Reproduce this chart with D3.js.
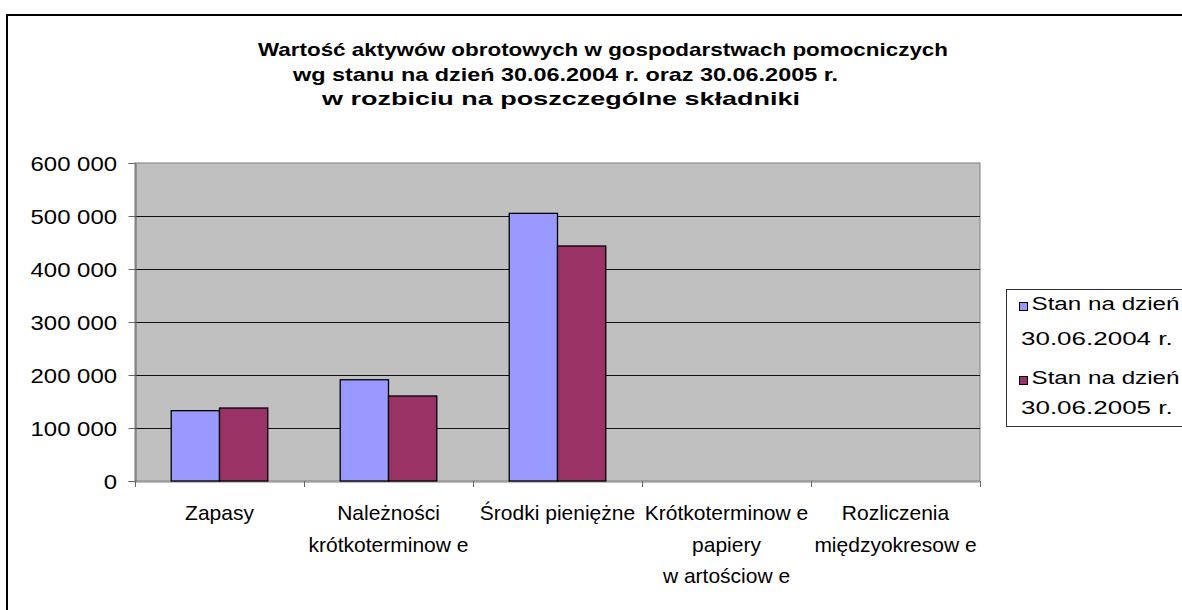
<!DOCTYPE html>
<html>
<head>
<meta charset="utf-8">
<script src="https://cdn.jsdelivr.net/npm/d3@7"></script>
<style>
  html, body { margin: 0; padding: 0; background: #fff; }
  svg { display: block; font-family: Arial, "Liberation Sans", sans-serif; }
</style>
</head>
<body>
<svg id="chart" width="1182" height="610"></svg>
<script>
// ---- data ----
const titleLines = [
  "Wartość aktywów obrotowych w gospodarstwach pomocniczych",
  "wg stanu na dzień 30.06.2004 r. oraz 30.06.2005 r.",
  "w rozbiciu na poszczególne składniki"
];
const categories = ["Zapasy", "Należności krótkoterminowe", "Środki pieniężne",
  "Krótkoterminowe papiery wartościowe", "Rozliczenia międzyokresowe"];
const categoryLabelLines = [
  ["Zapasy"],
  ["Należności", "krótkoterminow e"],
  ["Środki pieniężne"],
  ["Krótkoterminow e", "papiery", "w artościow e"],
  ["Rozliczenia", "międzyokresow e"]
];
const seriesNames = ["Stan na dzień 30.06.2004 r.", "Stan na dzień 30.06.2005 r."];
const legendLines = [["Stan na dzień", "30.06.2004 r."], ["Stan na dzień", "30.06.2005 r."]];
const values2004 = [132700, 191000, 505000, 0, 0];
const values2005 = [137700, 160400, 443400, 0, 0];
const yTicks = [0, 100000, 200000, 300000, 400000, 500000, 600000];
const colors = ["#9999FF", "#993366"];

// ---- layout ----
const svg = d3.select("#chart");
const plot = { left: 135, right: 980, top: 163, bottom: 481 };

// outer chart border (extends past window right/bottom)
svg.append("rect").attr("x", 7).attr("y", 15).attr("width", 1250).attr("height", 700)
  .attr("fill", "#fff").attr("stroke", "#000").attr("stroke-width", 2);

// title
const titleSpans = [[258, 948, 56], [293, 838, 80.5], [322, 800, 105]];
titleLines.forEach((t, i) => {
  const [x0, x1, yb] = titleSpans[i];
  svg.append("text").attr("x", x0).attr("y", yb)
    .attr("font-size", 19).attr("font-weight", "bold").attr("fill", "#000")
    .attr("textLength", x1 - x0).attr("lengthAdjust", "spacingAndGlyphs")
    .text(t);
});

const x = d3.scaleBand().domain(categories).range([plot.left, plot.right]).paddingInner(0).paddingOuter(0);
const x1 = d3.scaleBand().domain(seriesNames).range([0, x.bandwidth()]).paddingInner(0).paddingOuter(0.75);
const y = d3.scaleLinear().domain([0, 600000]).range([plot.bottom, plot.top]);

// plot background
svg.append("rect").attr("x", plot.left).attr("y", plot.top)
  .attr("width", plot.right - plot.left).attr("height", plot.bottom - plot.top)
  .attr("fill", "#C0C0C0").attr("stroke", "#808080").attr("stroke-width", 1);

// gridlines
svg.append("g").selectAll("line").data(yTicks.filter(d => d > 0 && d < 600000)).join("line")
  .attr("x1", plot.left).attr("x2", plot.right)
  .attr("y1", d => Math.round(y(d)) + 0.5).attr("y2", d => Math.round(y(d)) + 0.5)
  .attr("stroke", "#111").attr("stroke-width", 1);

// y axis
const fmt = d => d3.format(",")(d).replace(/,/g, " ");
const yAxis = d3.axisLeft(y).tickValues(yTicks).tickSize(7).tickPadding(10).tickFormat(fmt);
const gy = svg.append("g").attr("transform", `translate(${plot.left + 0.5},0)`).call(yAxis);
gy.select(".domain").attr("stroke", "#666");
gy.selectAll(".tick line").attr("stroke", "#666");
gy.selectAll(".tick text").attr("font-size", 21).attr("fill", "#000")
  .attr("font-family", "Arial, 'Liberation Sans', sans-serif")
  .attr("x", 0).attr("dy", "0.35em")
  .attr("transform", "translate(-18.5,0) scale(1.14,1)");

// x axis
const xAxis = d3.axisBottom(x).tickSize(0).tickFormat("");
const gx = svg.append("g").attr("transform", `translate(0,${plot.bottom + 0.5})`).call(xAxis);
gx.select(".domain").attr("stroke", "#808080");
// tick marks at band boundaries
svg.append("g").selectAll("line").data(categories.concat([null])).join("line")
  .attr("x1", (d, i) => Math.round(plot.left + i * x.step()) + 0.5)
  .attr("x2", (d, i) => Math.round(plot.left + i * x.step()) + 0.5)
  .attr("y1", plot.bottom).attr("y2", plot.bottom + 6)
  .attr("stroke", "#666");

// bars
const rows = categories.map((c, i) => ({ cat: c, vals: [values2004[i], values2005[i]] }));
const gBars = svg.append("g");
rows.forEach(r => {
  r.vals.forEach((v, si) => {
    if (!v) return;
    gBars.append("rect")
      .attr("x", x(r.cat) + x1(seriesNames[si]))
      .attr("y", y(v))
      .attr("width", x1.bandwidth())
      .attr("height", y(0) - y(v))
      .attr("fill", colors[si]).attr("stroke", "#000").attr("stroke-width", 1.3);
  });
});

// category labels
const labelG = svg.append("g");
categories.forEach((c, i) => {
  const cx = x(c) + x.bandwidth() / 2;
  categoryLabelLines[i].forEach((ln, j) => {
    labelG.append("text").attr("x", cx).attr("y", 520 + j * 31.7)
      .attr("text-anchor", "middle").attr("font-size", 21).attr("fill", "#000")
      .text(ln);
  });
});

// legend
svg.append("rect").attr("x", 1006.5).attr("y", 289.5).attr("width", 300).attr("height", 137)
  .attr("fill", "#fff").attr("stroke", "#333").attr("stroke-width", 1);
const legendRowY = [302, 376];
const legendLine2Y = [345, 414];
seriesNames.forEach((s, i) => {
  const ty = legendRowY[i];
  svg.append("rect").attr("x", 1019.5).attr("y", ty + 0.5).attr("width", 8).attr("height", 8)
    .attr("fill", colors[i]).attr("stroke", "#000").attr("stroke-width", 1);
  svg.append("text").attr("x", 1031.5).attr("y", ty + 7.5)
    .attr("font-size", 17.5).attr("fill", "#000")
    .attr("textLength", 148).attr("lengthAdjust", "spacingAndGlyphs")
    .text(legendLines[i][0]);
  svg.append("text").attr("x", 1021).attr("y", legendLine2Y[i])
    .attr("font-size", 17.5).attr("fill", "#000")
    .attr("textLength", 151.7).attr("lengthAdjust", "spacingAndGlyphs")
    .text(legendLines[i][1]);
});
</script>
</body>
</html>
